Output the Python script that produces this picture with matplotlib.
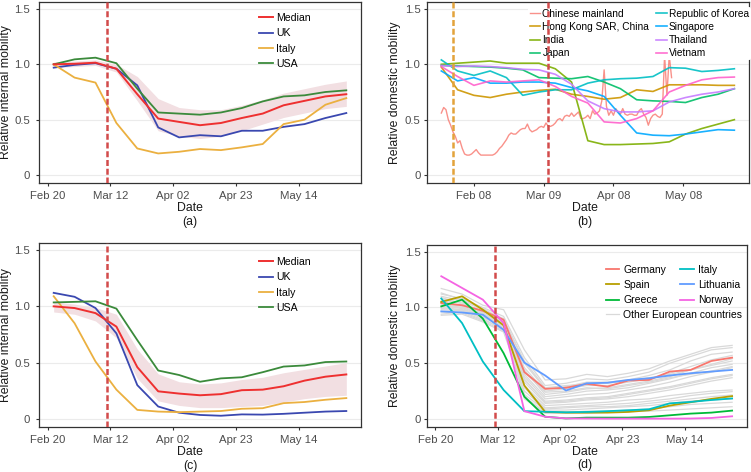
import numpy as np
import pandas as pd
import matplotlib
matplotlib.use("Agg")
import matplotlib.pyplot as plt

plt.rcParams['font.family'] = ['Liberation Sans', 'DejaVu Sans']

# ---- dates / ticks ----
weeks = pd.date_range("2020-02-22", periods=15, freq="7D")
weeks_b = pd.date_range("2020-01-25", periods=19, freq="7D")
tick_dates = ["2020-02-20", "2020-03-12", "2020-04-02", "2020-04-23", "2020-05-14"]
tick_labels = ["Feb 20", "Mar 12", "Apr 02", "Apr 23", "May 14"]
tick_dates_b = ["2020-02-08", "2020-03-09", "2020-04-08", "2020-05-08"]
tick_labels_b = ["Feb 08", "Mar 09", "Apr 08", "May 08"]

# ---- panel (a): relative internal mobility ----
median_a = [1.00, 1.005, 1.015, 0.96, 0.73, 0.51, 0.48, 0.45, 0.47, 0.515, 0.555, 0.63, 0.67, 0.71, 0.73]
lo_a = [0.97, 0.98, 0.99, 0.93, 0.67, 0.40, 0.35, 0.33, 0.35, 0.40, 0.46, 0.52, 0.56, 0.60, 0.62]
hi_a = [1.02, 1.03, 1.04, 1.00, 0.89, 0.69, 0.61, 0.59, 0.59, 0.63, 0.68, 0.74, 0.78, 0.82, 0.85]
uk_a = [0.97, 0.995, 1.01, 0.96, 0.81, 0.43, 0.34, 0.36, 0.35, 0.40, 0.40, 0.435, 0.46, 0.515, 0.56]
italy_a = [1.00, 0.88, 0.835, 0.47, 0.24, 0.195, 0.21, 0.235, 0.225, 0.25, 0.28, 0.46, 0.50, 0.635, 0.695]
usa_a = [1.00, 1.045, 1.06, 1.01, 0.78, 0.565, 0.555, 0.545, 0.565, 0.605, 0.665, 0.71, 0.72, 0.75, 0.765]

# ---- panel (c) ----
median_c = [1.00, 0.985, 0.94, 0.82, 0.46, 0.245, 0.225, 0.21, 0.22, 0.255, 0.26, 0.29, 0.34, 0.375, 0.395]
lo_c = [0.95, 0.93, 0.87, 0.72, 0.36, 0.16, 0.12, 0.10, 0.10, 0.11, 0.12, 0.15, 0.18, 0.20, 0.21]
hi_c = [1.04, 1.02, 0.99, 0.93, 0.62, 0.40, 0.33, 0.31, 0.32, 0.35, 0.37, 0.41, 0.44, 0.47, 0.50]
uk_c = [1.12, 1.085, 0.985, 0.76, 0.30, 0.11, 0.055, 0.035, 0.028, 0.04, 0.038, 0.045, 0.055, 0.065, 0.07]
italy_c = [1.09, 0.85, 0.51, 0.26, 0.08, 0.065, 0.06, 0.065, 0.07, 0.09, 0.095, 0.14, 0.15, 0.17, 0.185]
usa_c = [1.035, 1.04, 1.045, 0.98, 0.70, 0.43, 0.39, 0.33, 0.36, 0.37, 0.415, 0.465, 0.475, 0.505, 0.51]

# ---- panel (b): Asian countries, weekly (China daily) ----
china_daily = [0.56, 0.61, 0.59, 0.50, 0.45, 0.39, 0.35, 0.29, 0.31, 0.24,
               0.19, 0.18, 0.18, 0.19, 0.21, 0.23, 0.20, 0.18, 0.18, 0.18,
               0.18, 0.18, 0.18, 0.19, 0.21, 0.24, 0.26, 0.29, 0.32, 0.36,
               0.38, 0.37, 0.37, 0.39, 0.41, 0.42, 0.42, 0.46, 0.41, 0.39,
               0.40, 0.41, 0.43, 0.44, 0.43, 0.47, 0.44, 0.44, 0.45, 0.47,
               0.50, 0.51, 0.49, 0.53, 0.54, 0.53, 0.56, 0.53, 0.55, 0.57,
               0.51, 0.51, 0.52, 0.54, 0.51, 0.58, 0.55, 0.56, 0.58, 0.67,
               0.95, 0.62, 0.54, 0.58, 0.54, 0.60, 0.57, 0.55, 0.60, 0.55,
               0.54, 0.55, 0.55, 0.54, 0.54, 0.58, 0.60, 0.55, 0.52, 0.45,
               0.51, 0.54, 0.55, 0.53, 0.52, 0.55, 1.08, 0.72, 1.08, 0.88]
hongkong = [0.975, 0.77, 0.72, 0.70, 0.73, 0.75, 0.765, 0.775, 0.73, 0.71, 0.685, 0.70, 0.77, 0.755, 0.815, 0.815, 0.815, 0.81, 0.81]
india = [1.00, 1.01, 1.02, 1.03, 1.01, 1.01, 1.01, 0.96, 0.84, 0.31, 0.275, 0.275, 0.28, 0.285, 0.30, 0.37, 0.42, 0.46, 0.50]
japan = [0.99, 0.985, 0.98, 0.975, 0.965, 0.95, 0.88, 0.875, 0.87, 0.89, 0.84, 0.78, 0.68, 0.67, 0.665, 0.655, 0.70, 0.73, 0.78]
korea = [1.04, 0.94, 0.90, 0.94, 0.88, 0.72, 0.75, 0.77, 0.77, 0.83, 0.86, 0.87, 0.875, 0.89, 0.97, 0.965, 0.935, 0.945, 0.96]
singapore = [0.94, 0.85, 0.88, 0.83, 0.83, 0.84, 0.84, 0.83, 0.79, 0.76, 0.71, 0.54, 0.38, 0.36, 0.355, 0.37, 0.39, 0.41, 0.405]
thailand = [0.99, 0.98, 0.985, 0.98, 0.97, 0.955, 0.95, 0.91, 0.82, 0.67, 0.60, 0.57, 0.57, 0.58, 0.66, 0.70, 0.73, 0.75, 0.78]
vietnam = [0.98, 0.89, 0.81, 0.85, 0.84, 0.85, 0.86, 0.80, 0.71, 0.65, 0.48, 0.47, 0.51, 0.58, 0.75, 0.81, 0.86, 0.88, 0.885]

# ---- panel (d): European countries ----
germany = [1.04, 1.02, 0.97, 0.89, 0.42, 0.27, 0.28, 0.315, 0.29, 0.345, 0.35, 0.425, 0.44, 0.52, 0.55]
spain = [1.05, 1.10, 0.98, 0.84, 0.30, 0.063, 0.057, 0.057, 0.057, 0.063, 0.078, 0.12, 0.15, 0.18, 0.205]
greece = [1.01, 1.07, 0.90, 0.59, 0.20, 0.02, 0.005, 0.012, 0.012, 0.012, 0.018, 0.033, 0.048, 0.057, 0.075]
italy_d = [1.08, 0.86, 0.515, 0.26, 0.07, 0.065, 0.06, 0.063, 0.07, 0.078, 0.087, 0.14, 0.153, 0.17, 0.184]
lithuania = [0.965, 0.955, 0.935, 0.80, 0.505, 0.39, 0.255, 0.32, 0.325, 0.35, 0.365, 0.39, 0.41, 0.425, 0.44]
norway = [1.28, 1.175, 1.07, 0.86, 0.07, 0.02, 0.005, 0.004, 0.003, 0.003, 0.003, 0.003, 0.004, 0.009, 0.024]
others_d = [
    [1.17, 1.12, 1.02, 0.98, 0.62, 0.35, 0.36, 0.40, 0.38, 0.41, 0.45, 0.52, 0.58, 0.64, 0.66],
    [1.12, 1.08, 1.00, 0.92, 0.55, 0.30, 0.32, 0.36, 0.35, 0.38, 0.42, 0.50, 0.56, 0.62, 0.64],
    [1.10, 1.06, 0.98, 0.90, 0.50, 0.27, 0.29, 0.33, 0.33, 0.35, 0.39, 0.44, 0.52, 0.58, 0.60],
    [1.08, 1.04, 0.96, 0.88, 0.46, 0.25, 0.27, 0.30, 0.30, 0.33, 0.36, 0.41, 0.47, 0.53, 0.57],
    [1.06, 1.05, 0.95, 0.86, 0.44, 0.22, 0.24, 0.27, 0.28, 0.31, 0.34, 0.38, 0.44, 0.49, 0.54],
    [1.04, 1.01, 0.93, 0.84, 0.40, 0.20, 0.22, 0.25, 0.26, 0.28, 0.32, 0.36, 0.41, 0.46, 0.49],
    [1.02, 0.99, 0.92, 0.82, 0.38, 0.18, 0.20, 0.22, 0.23, 0.26, 0.29, 0.33, 0.38, 0.42, 0.46],
    [1.00, 0.98, 0.90, 0.80, 0.35, 0.16, 0.17, 0.19, 0.20, 0.23, 0.26, 0.29, 0.33, 0.37, 0.40],
    [0.98, 0.97, 0.91, 0.83, 0.33, 0.14, 0.15, 0.17, 0.18, 0.20, 0.23, 0.26, 0.30, 0.34, 0.37],
    [0.96, 0.95, 0.88, 0.79, 0.30, 0.12, 0.13, 0.14, 0.15, 0.17, 0.18, 0.21, 0.23, 0.25, 0.26],
    [0.94, 0.96, 0.89, 0.81, 0.28, 0.10, 0.11, 0.12, 0.13, 0.14, 0.16, 0.18, 0.21, 0.23, 0.245],
    [0.93, 0.94, 0.87, 0.78, 0.25, 0.09, 0.10, 0.11, 0.11, 0.12, 0.14, 0.16, 0.18, 0.20, 0.215],
    [1.05, 1.02, 0.94, 0.85, 0.22, 0.08, 0.08, 0.09, 0.10, 0.11, 0.12, 0.14, 0.16, 0.17, 0.18],
    [1.09, 1.03, 0.97, 0.87, 0.20, 0.06, 0.06, 0.07, 0.07, 0.08, 0.09, 0.11, 0.13, 0.14, 0.15],
    [1.01, 1.00, 0.93, 0.83, 0.18, 0.05, 0.05, 0.05, 0.06, 0.07, 0.07, 0.08, 0.09, 0.10, 0.11],
    [1.13, 1.07, 0.99, 0.89, 0.52, 0.28, 0.30, 0.31, 0.32, 0.34, 0.37, 0.40, 0.44, 0.48, 0.52],
    [1.03, 1.00, 0.95, 0.86, 0.42, 0.24, 0.25, 0.28, 0.27, 0.30, 0.33, 0.37, 0.40, 0.43, 0.47],
    [0.99, 0.98, 0.92, 0.84, 0.36, 0.15, 0.16, 0.18, 0.19, 0.22, 0.25, 0.28, 0.32, 0.36, 0.39],
]

W, H = 751, 472
fig = plt.figure(figsize=(W / 100, H / 100), dpi=100)
txt = '#1a1a1a'


def add_ax(left, top, right, bottom):
    return fig.add_axes([left / W, 1 - bottom / H, (right - left) / W, (bottom - top) / H])


def ftext(x, y, s, **kw):
    fig.text(x / W, 1 - y / H, s, ha='center', va='center', fontsize=8.8, color=txt, **kw)


def style(ax, xt, xl, xlim, pad):
    ax.set_ylim(-0.072, 1.563)
    ax.set_yticks([0, 0.5, 1.0, 1.5])
    ax.set_yticklabels(["0", "0.5", "1.0", "1.5"])
    ax.grid(axis='y', color='#ebebeb', lw=0.8)
    ax.set_axisbelow(True)
    ax.set_xticks(pd.to_datetime(xt))
    ax.set_xticklabels(xl)
    ax.set_xlim(pd.Timestamp(xlim[0]), pd.Timestamp(xlim[1]))
    for s in ax.spines.values():
        s.set_color('#333333')
        s.set_linewidth(0.9)
    ax.tick_params(length=2.5, width=0.8, color='#333333', labelsize=8.2,
                   labelcolor='#4d4d4d')
    ax.tick_params(axis='y', pad=pad)
    ax.tick_params(axis='x', pad=3)


def vline(ax, day, color):
    ax.axvline(pd.Timestamp(day), color=color, lw=1.8, ls=(0, (2.4, 1.1)), zorder=6)


vred = '#d24b4b'
c_med, c_uk, c_it, c_us = '#ee3030', '#3a48b0', '#ebb040', '#3b8a3b'
xlim_w = ("2020-02-17 02:00", "2020-06-03 22:00")
xlim_b = ("2020-01-18 17:00", "2020-06-05 07:00")

# panel a & c
for (top, bottom, med, lo, hi, uk, it, us, tag) in [
        (2, 183, median_a, lo_a, hi_a, uk_a, italy_a, usa_a, "(a)"),
        (243, 427, median_c, lo_c, hi_c, uk_c, italy_c, usa_c, "(c)")]:
    ax = add_ax(39, top, 361, bottom)
    ax.fill_between(weeks, lo, hi, color='#f2dfe2', lw=0)
    l1, = ax.plot(weeks, med, color=c_med, lw=1.4, label="Median", zorder=4)
    l2, = ax.plot(weeks, uk, color=c_uk, lw=1.3, label="UK", zorder=3)
    l3, = ax.plot(weeks, it, color=c_it, lw=1.3, label="Italy", zorder=3)
    l4, = ax.plot(weeks, us, color=c_us, lw=1.3, label="USA", zorder=3)
    vline(ax, "2020-03-11", vred)
    style(ax, tick_dates, tick_labels, xlim_w, 4)
    row1 = top + (17 if top < 100 else 20)
    ax.legend(handles=[l1, l2, l3, l4], loc='upper left',
              bbox_to_anchor=(0.683, (bottom - (row1 - 6)) / (bottom - top)),
              frameon=False, fontsize=7.6, handlelength=1.3, handletextpad=0.35,
              labelspacing=0.5, borderpad=0, borderaxespad=0)
    ftext(190, bottom + 25, "Date")
    ftext(190, bottom + 39, tag)
    ftext(6, (top + bottom) / 2, "Relative internal mobility", rotation=90)

# panel b
ax = add_ax(426.7, 2, 749, 183)
hue8 = ['#F8766D', '#CD9600', '#7CAE00', '#00BE67', '#00BFC4', '#00A9FF', '#C77CFF', '#FF61CC']
names_b = ["Chinese mainland", "Hong Kong SAR, China", "India", "Japan",
           "Republic of Korea", "Singapore", "Thailand", "Vietnam"]
series_b = [hongkong, india, japan, korea, singapore, thailand, vietnam]
days_china = pd.date_range("2020-01-25", periods=len(china_daily), freq="D")
hb = []
h, = ax.plot(days_china, china_daily, color=hue8[0], lw=1.0, alpha=0.8, label=names_b[0])
hb.append(h)
for name, vals, col in zip(names_b[1:], series_b, hue8[1:]):
    h, = ax.plot(weeks_b, vals, color=col, lw=1.2, alpha=0.9, label=name)
    hb.append(h)
vline(ax, "2020-01-30", '#e3a33b')
vline(ax, "2020-03-11", vred)
style(ax, tick_dates_b, tick_labels_b, xlim_b, 2)
leg = ax.legend(handles=hb, loc='upper left', bbox_to_anchor=(0.315, 0.972), ncol=2,
                frameon=True, facecolor='white', edgecolor='none', framealpha=1,
                fontsize=7.3, handlelength=1.0, handletextpad=0.25, columnspacing=0.7,
                labelspacing=0.32, borderpad=0.15, borderaxespad=0)
leg.set_zorder(5)
ftext(585, 208, "Date")
ftext(585, 222, "(b)")
ftext(395, 92.5, "Relative domestic mobility", rotation=90)

# panel d
ax = add_ax(426.7, 244.7, 746.7, 427)
hue6 = ['#F8766D', '#B79F00', '#00BA38', '#00BFC4', '#619CFF', '#F564E3']
grey_h = None
for vals in others_d:
    grey_h, = ax.plot(weeks, vals, color='#d9d9d9', lw=0.9, zorder=2)
names_d = ["Germany", "Spain", "Greece", "Italy", "Lithuania", "Norway"]
series_d = [germany, spain, greece, italy_d, lithuania, norway]
hd = []
for name, vals, col in zip(names_d, series_d, hue6):
    h, = ax.plot(weeks, vals, color=col, lw=1.3, label=name, zorder=3)
    hd.append(h)
vline(ax, "2020-03-11", vred)
style(ax, tick_dates, tick_labels, xlim_w, 2)
leg1 = ax.legend(handles=hd, loc='upper left', bbox_to_anchor=(0.559, 0.889), ncol=2,
                 frameon=False, fontsize=7.5, handlelength=1.3, handletextpad=0.4,
                 columnspacing=1.35, labelspacing=0.5, borderpad=0, borderaxespad=0)
ax.add_artist(leg1)
ax.legend(handles=[grey_h], labels=["Other European countries"], loc='upper left',
          bbox_to_anchor=(0.559, 0.641), frameon=False, fontsize=7.5, handlelength=1.3,
          handletextpad=0.4, borderpad=0, borderaxespad=0)
ftext(585, 452, "Date")
ftext(585, 465, "(d)")
ftext(395, 336, "Relative domestic mobility", rotation=90)

fig.savefig("out.png", dpi=100)
